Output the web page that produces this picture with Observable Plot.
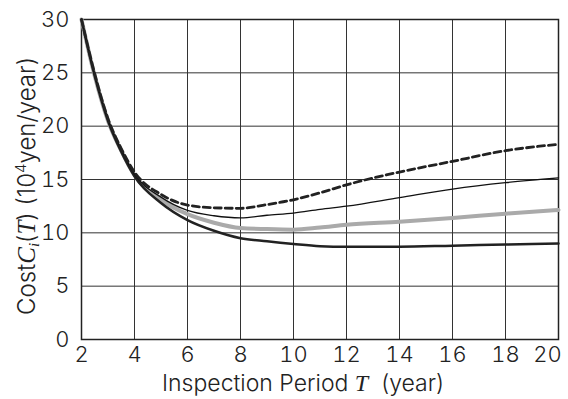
<!DOCTYPE html>
<html><head><meta charset="utf-8">
<script src="https://cdn.jsdelivr.net/npm/d3@7"></script>
<script src="https://cdn.jsdelivr.net/npm/@observablehq/plot@0.6"></script>
<style>body{margin:0;background:#fff}</style>
</head><body><div id="chart"></div>
<script>
const T = [2, 2.5, 3, 3.5, 4, 5, 6, 7, 8, 9, 10, 11, 12, 14, 16, 18, 20];
const costDashed = [30, 24.9, 20.7, 17.9, 15.7, 13.6, 12.6, 12.35, 12.3, 12.65, 13.1, 13.75, 14.5, 15.7, 16.7, 17.7, 18.3];
const costThin   = [30, 24.8, 20.6, 17.8, 15.5, 13.35, 12.1, 11.6, 11.4, 11.65, 11.85, 12.2, 12.5, 13.3, 14.1, 14.7, 15.15];
const costGray   = [30, 24.7, 20.5, 17.7, 15.4, 13.1, 11.75, 10.95, 10.45, 10.35, 10.3, 10.5, 10.75, 11.05, 11.4, 11.8, 12.15];
const costBlack  = [30, 24.7, 20.5, 17.6, 15.3, 12.8, 11.2, 10.2, 9.5, 9.2, 8.95, 8.75, 8.7, 8.7, 8.8, 8.9, 9.0];
const xTicks = [2, 4, 6, 8, 10, 12, 14, 16, 18, 20];
const yTicks = [0, 5, 10, 15, 20, 25, 30];

const toRows = (vals) => T.map((t, i) => ({T: t, cost: vals[i]}));
const font = "Inter, 'Noto Sans', sans-serif";

const chart = Plot.plot({
  width: 568, height: 399,
  marginLeft: 81, marginRight: 10, marginTop: 19, marginBottom: 60,
  style: {fontFamily: font, fontSize: "22px", fontWeight: 300, color: "#222", background: "#fff"},
  x: {domain: [2, 20], label: null},
  y: {domain: [0, 30], label: null},
  marks: [
    Plot.gridX(xTicks, {stroke: "#333", strokeOpacity: 1, strokeWidth: 1}),
    Plot.gridY(yTicks, {stroke: "#333", strokeOpacity: 1, strokeWidth: 1}),
    Plot.axisX(xTicks.slice(0, -1), {tickSize: 0, tickPadding: 7, label: null}),
    Plot.axisX(xTicks.slice(-1), {tickSize: 0, tickPadding: 7, label: null, dx: -11}),
    Plot.axisY(yTicks, {tickSize: 0, tickPadding: 12, label: null}),
    Plot.frame({stroke: "#222", strokeWidth: 1.5}),
    Plot.line(toRows(costGray), {x: "T", y: "cost", stroke: "#aaa", strokeWidth: 4, curve: "monotone-x"}),
    Plot.line(toRows(costBlack), {x: "T", y: "cost", stroke: "#222", strokeWidth: 2.5, curve: "monotone-x"}),
    Plot.line(toRows(costThin), {x: "T", y: "cost", stroke: "#111", strokeWidth: 1.3, curve: "monotone-x"}),
    Plot.line(toRows(costDashed), {x: "T", y: "cost", stroke: "#222", strokeWidth: 2.8, strokeDasharray: "7,4", curve: "monotone-x"})
  ]
});
document.getElementById("chart").append(chart);

const svg = d3.select(chart);
const serif = "'Liberation Serif', 'DejaVu Serif', serif";
// y label
const yl = svg.append("text")
  .attr("transform", "translate(35,186) rotate(-90)")
  .attr("text-anchor", "middle")
  .attr("font-size", 24).attr("font-weight", 300).attr("fill", "#222");
yl.append("tspan").text("Cost");
yl.append("tspan").attr("font-family", serif).attr("font-style", "italic").attr("font-size", 25).text("C");
yl.append("tspan").attr("font-family", serif).attr("font-style", "italic").attr("font-size", 15).attr("dy", 4).text("i");
yl.append("tspan").attr("dy", -4).text("(");
yl.append("tspan").attr("font-family", serif).attr("font-style", "italic").attr("font-size", 25).text("T");
yl.append("tspan").text(") (10");
yl.append("tspan").attr("font-size", 15).attr("dy", -9).text("4");
yl.append("tspan").attr("dy", 9).text("yen/year)");
// x label
const xl = svg.append("text")
  .attr("x", 303).attr("y", 391)
  .attr("text-anchor", "middle")
  .attr("font-size", 23).attr("font-weight", 300).attr("fill", "#222");
xl.append("tspan").text("Inspection Period ");
xl.append("tspan").attr("font-family", serif).attr("font-style", "italic").attr("font-size", 24).text("T");
xl.append("tspan").text("  (year)");
</script>
</body></html>
